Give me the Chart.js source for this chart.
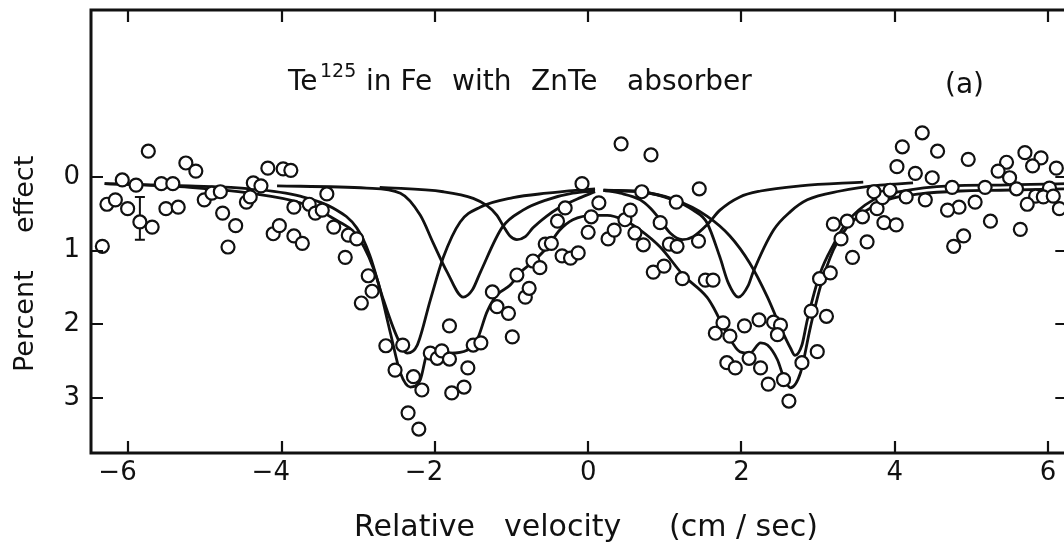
<!DOCTYPE html>
<html>
<head>
<meta charset="utf-8">
<script src="https://cdn.jsdelivr.net/npm/chart.js@4.4.1/dist/chart.umd.min.js"></script>
<style>
  html, body { margin: 0; padding: 0; background: #fff; overflow: hidden; }
  #wrap { width: 1076px; height: 545px; }
</style>
</head>
<body>
<div id="wrap"><canvas id="chart" width="1076" height="545"></canvas></div>
<script>
// Measured points: relative velocity (cm/sec) and percent effect
const obsVelocity = [
  -6.34, -6.28, -6.17, -6.08, -6.01, -5.90, -5.85, -5.74, -5.69, -5.57,
  -5.51, -5.42, -5.35, -5.25, -5.12, -5.01, -4.91, -4.80, -4.77, -4.70,
  -4.60, -4.46, -4.41, -4.37, -4.27, -4.18, -4.11, -4.03, -3.98, -3.88,
  -3.84, -3.73, -3.84, -3.64, -3.56, -3.47, -3.41, -3.32, -3.17, -3.13,
  -3.02, -2.87, -2.82, -2.96, -2.64, -2.42, -2.52, -2.28, -2.17, -2.35,
  -2.21, -2.06, -1.97, -1.91, -1.81, -1.81, -1.57, -1.78, -1.62, -1.50,
  -1.40, -1.25, -1.19, -1.04, -0.99, -0.93, -0.82, -0.77, -0.72, -0.63,
  -0.56, -0.48, -0.34, -0.23, -0.13, -0.40, -0.30, 0.00, 0.04, 0.14,
  -0.08, 0.43, 0.82, 0.26, 0.34, 0.48, 0.55, 0.70, 0.61, 0.72,
  0.94, 1.15, 1.45, 1.44, 1.06, 1.16, 0.85, 0.99, 1.23, 1.53,
  1.63, 1.76, 1.66, 1.85, 2.04, 2.23, 2.42, 2.51, 2.47, 1.81,
  1.92, 2.10, 2.25, 2.35, 2.55, 2.62, 2.79, 2.99, 2.91, 3.11,
  3.02, 3.16, 3.30, 3.45, 3.64, 3.20, 3.38, 3.58, 3.77, 3.84,
  3.73, 3.94, 3.86, 4.02, 4.03, 4.36, 4.10, 4.56, 4.96, 4.27,
  4.49, 4.15, 4.40, 4.75, 5.18, 5.59, 5.70, 5.91, 5.80, 5.46,
  5.35, 5.50, 6.11, 6.02, 5.84, 5.94, 6.07, 5.73, 6.15, 5.05,
  4.84, 4.69, 5.25, 5.64, 4.90, 4.77
];
const obsEffect = [
  0.94, 0.37, 0.31, 0.04, 0.43, 0.11, 0.61, -0.35, 0.68, 0.09,
  0.43, 0.09, 0.41, -0.19, -0.08, 0.31, 0.22, 0.20, 0.49, 0.95,
  0.66, 0.34, 0.27, 0.08, 0.12, -0.12, 0.77, 0.66, -0.11, -0.09,
  0.80, 0.90, 0.41, 0.37, 0.49, 0.45, 0.23, 0.68, 1.09, 0.79,
  0.84, 1.34, 1.55, 1.71, 2.29, 2.28, 2.62, 2.71, 2.89, 3.20,
  3.42, 2.39, 2.46, 2.36, 2.47, 2.02, 2.59, 2.93, 2.85, 2.28,
  2.25, 1.56, 1.76, 1.85, 2.17, 1.33, 1.63, 1.51, 1.14, 1.23,
  0.91, 0.90, 1.07, 1.10, 1.03, 0.60, 0.42, 0.75, 0.54, 0.35,
  0.09, -0.45, -0.30, 0.84, 0.72, 0.58, 0.45, 0.20, 0.76, 0.92,
  0.62, 0.34, 0.16, 0.87, 0.91, 0.94, 1.29, 1.21, 1.38, 1.40,
  1.40, 1.98, 2.12, 2.16, 2.02, 1.94, 1.97, 2.01, 2.14, 2.52,
  2.59, 2.46, 2.59, 2.81, 2.75, 3.04, 2.52, 2.37, 1.82, 1.89,
  1.38, 1.30, 0.84, 1.09, 0.88, 0.64, 0.60, 0.54, 0.43, 0.28,
  0.20, 0.18, 0.62, 0.65, -0.14, -0.60, -0.41, -0.35, -0.24, -0.05,
  0.01, 0.27, 0.31, 0.14, 0.14, 0.16, -0.33, -0.26, -0.15, -0.20,
  -0.08, 0.01, -0.12, 0.15, 0.26, 0.27, 0.26, 0.37, 0.43, 0.34,
  0.41, 0.45, 0.60, 0.71, 0.80, 0.94
];

// Fitted curves as [velocity, percent effect]
const fitTotal = [
  [-6.31, 0.09], [-5.20, 0.14], [-4.41, 0.22], [-3.76, 0.35], [-3.33, 0.56],
  [-2.98, 0.85], [-2.75, 1.40], [-2.58, 2.12], [-2.45, 2.66], [-2.32, 2.85],
  [-2.19, 2.75], [-2.09, 2.37], [-1.97, 2.35], [-1.80, 2.39], [-1.58, 2.35],
  [-1.45, 2.21], [-1.32, 1.83], [-1.19, 1.60], [-1.02, 1.47], [-0.89, 1.30],
  [-0.72, 1.15], [-0.54, 0.96], [-0.37, 0.72], [-0.20, 0.58], [0.07, 0.52],
  [0.25, 0.52], [0.46, 0.58], [0.68, 0.72], [0.94, 0.95], [1.24, 1.33],
  [1.55, 1.63], [1.63, 1.76], [1.81, 2.12], [1.98, 2.37], [2.11, 2.39],
  [2.25, 2.25], [2.34, 2.28], [2.47, 2.48], [2.55, 2.71], [2.64, 2.86],
  [2.77, 2.66], [2.90, 2.04], [3.03, 1.49], [3.20, 0.99], [3.38, 0.68],
  [3.64, 0.45], [3.90, 0.31], [4.33, 0.23], [4.86, 0.19], [5.38, 0.18],
  [6.21, 0.16]
];
const lineA = [
  [-6.31, 0.09], [-5.20, 0.12], [-4.41, 0.16], [-3.76, 0.26], [-3.33, 0.42],
  [-3.02, 0.69], [-2.85, 1.06], [-2.68, 1.64], [-2.49, 2.18], [-2.36, 2.39],
  [-2.23, 2.28], [-2.06, 1.67], [-1.89, 1.09], [-1.67, 0.61], [-1.41, 0.41],
  [-0.98, 0.28], [-0.54, 0.22], [0.09, 0.16]
];
const lineB = [
  [-4.06, 0.12], [-2.89, 0.15], [-2.45, 0.22], [-2.19, 0.52], [-2.02, 0.90],
  [-1.84, 1.29], [-1.63, 1.63], [-1.51, 1.53], [-1.41, 1.30], [-1.12, 0.68],
  [-0.85, 0.45], [-0.54, 0.31], [-0.20, 0.22], [0.09, 0.19]
];
const lineC = [
  [-2.72, 0.14], [-1.89, 0.20], [-1.50, 0.29], [-1.32, 0.39], [-1.19, 0.52],
  [-1.11, 0.66], [-1.02, 0.80], [-0.93, 0.85], [-0.82, 0.81], [-0.72, 0.69],
  [-0.54, 0.53], [-0.40, 0.43], [-0.10, 0.28], [0.09, 0.20]
];
const lineD = [
  [0.20, 0.18], [0.42, 0.22], [0.68, 0.31], [0.81, 0.42], [0.94, 0.58],
  [1.07, 0.76], [1.23, 0.85], [1.37, 0.81], [1.55, 0.65], [1.72, 0.45],
  [1.98, 0.27], [2.25, 0.19], [2.77, 0.12], [3.59, 0.07]
];
const lineE = [
  [0.20, 0.18], [0.68, 0.20], [1.11, 0.31], [1.37, 0.45], [1.55, 0.62],
  [1.72, 1.09], [1.83, 1.44], [1.96, 1.63], [2.09, 1.47], [2.15, 1.30],
  [2.42, 0.72], [2.64, 0.47], [2.86, 0.31], [3.29, 0.19], [3.81, 0.11],
  [4.24, 0.08]
];
const lineF = [
  [0.20, 0.18], [0.68, 0.20], [1.11, 0.30], [1.55, 0.53], [1.85, 0.80],
  [2.11, 1.17], [2.34, 1.63], [2.51, 2.04], [2.64, 2.32], [2.70, 2.42],
  [2.79, 2.28], [2.86, 1.94], [3.03, 1.30], [3.20, 0.92], [3.38, 0.61],
  [3.72, 0.31], [4.07, 0.20], [4.73, 0.12], [5.38, 0.11], [6.25, 0.09]
];

// Typical error bar
const errBarX = [-5.85];
const errBarLow = [0.27];
const errBarHigh = [0.85];

const xTicks = [-6, -4, -2, 0, 2, 4, 6];
const yTicks = [0, 1, 2, 3];

const INK = '#111';

const toXY = pts => pts.map(([x, y]) => ({ x, y }));

function curve(pts) {
    return {
        type: 'line',
        data: toXY(pts),
        borderColor: INK,
        borderWidth: 2.8,
        pointRadius: 0,
        fill: false,
        cubicInterpolationMode: 'monotone',
        order: 1
    };
}

const errorBarPlugin = {
    id: 'errorBar',
    beforeDatasetsDraw: (chart) => {
        const { ctx, scales: { x, y } } = chart;
        ctx.save();
        ctx.strokeStyle = INK;
        ctx.lineWidth = 2;
        errBarX.forEach((v, i) => {
            const px = x.getPixelForValue(v);
            const top = y.getPixelForValue(errBarLow[i]);
            const bot = y.getPixelForValue(errBarHigh[i]);
            ctx.beginPath();
            ctx.moveTo(px, top); ctx.lineTo(px, bot);
            ctx.moveTo(px - 5, top); ctx.lineTo(px + 5, top);
            ctx.moveTo(px - 5, bot); ctx.lineTo(px + 5, bot);
            ctx.stroke();
        });
        ctx.restore();
    }
};

// Box frame with inward ticks, plus the text inside and round the plot
const framePlugin = {
    id: 'frame',
    afterDatasetsDraw: (chart) => {
        const { ctx, chartArea: a, scales: { x, y } } = chart;
        ctx.save();
        ctx.strokeStyle = INK;
        ctx.lineWidth = 3;
        ctx.strokeRect(a.left, a.top, a.right - a.left, a.bottom - a.top);

        ctx.lineWidth = 2.2;
        ctx.beginPath();
        xTicks.forEach(v => {
            const px = Math.round(x.getPixelForValue(v));
            ctx.moveTo(px, a.top); ctx.lineTo(px, a.top + 12);
            ctx.moveTo(px, a.bottom); ctx.lineTo(px, a.bottom - 12);
        });
        yTicks.forEach(v => {
            const py = Math.round(y.getPixelForValue(v));
            ctx.moveTo(a.left, py); ctx.lineTo(a.left + 12, py);
            ctx.moveTo(a.right, py); ctx.lineTo(a.right - 12, py);
        });
        ctx.stroke();
        ctx.restore();
    },
    afterDraw: (chart) => {
        const ctx = chart.ctx;
        ctx.save();
        ctx.fillStyle = INK;
        ctx.textBaseline = 'alphabetic';
        ctx.textAlign = 'left';

        // caption inside the plot
        ctx.font = '28px "DejaVu Sans"';
        ctx.fillText('Te', 288, 90);
        ctx.fillText('in Fe', 366, 90);
        ctx.fillText('with', 452, 90);
        ctx.fillText('ZnTe', 531, 90);
        ctx.fillText('absorber', 627, 90);
        ctx.fillText('(a)', 945, 93);
        ctx.font = '19px "DejaVu Sans"';
        ctx.fillText('125', 320, 77);

        // x axis title
        ctx.font = '30px "DejaVu Sans"';
        ctx.fillText('Relative', 354, 536);
        ctx.fillText('velocity', 504, 536);
        ctx.fillText('(cm / sec)', 669, 536);

        // y axis title
        ctx.save();
        ctx.translate(33, 372);
        ctx.rotate(-Math.PI / 2);
        ctx.font = '27px "DejaVu Sans"';
        ctx.fillText('Percent', 0, 0);
        ctx.fillText('effect', 139, 0);
        ctx.restore();

        ctx.restore();
    }
};

new Chart(document.getElementById('chart'), {
    type: 'scatter',
    data: {
        datasets: [
            {
                label: 'Measured',
                data: obsVelocity.map((v, i) => ({ x: v, y: obsEffect[i] })),
                pointRadius: 6.5,
                pointBorderWidth: 2.2,
                pointBorderColor: INK,
                pointBackgroundColor: '#fff',
                showLine: false,
                order: 0
            },
            curve(fitTotal),
            curve(lineA),
            curve(lineB),
            curve(lineC),
            curve(lineD),
            curve(lineE),
            curve(lineF)
        ]
    },
    options: {
        responsive: false,
        devicePixelRatio: 1,
        animation: false,
        layout: { padding: { top: 10, right: 4, left: 0, bottom: 0 } },
        plugins: {
            legend: { display: false },
            tooltip: { enabled: false }
        },
        scales: {
            x: {
                type: 'linear',
                min: -6.488,
                max: 6.253,
                grid: { display: false, drawTicks: false },
                border: { display: false },
                afterBuildTicks: (s) => { s.ticks = xTicks.map(v => ({ value: v })); },
                afterFit: (s) => {
                    s.height = 92;
                    s.paddingLeft = 0;
                    s.paddingRight = 0;
                },
                ticks: {
                    autoSkip: false,
                    maxRotation: 0,
                    padding: 5,
                    color: INK,
                    font: { family: 'DejaVu Sans', size: 26 },
                    // pad negatives so the digit, not the sign, sits on the tick
                    callback: (v) => v < 0 ? '\u2212' + Math.abs(v) + '\u2007\u2009' : String(v)
                }
            },
            y: {
                type: 'linear',
                reverse: true,
                min: -2.266,
                max: 3.745,
                grid: { display: false, drawTicks: false },
                border: { display: false },
                afterBuildTicks: (s) => { s.ticks = yTicks.map(v => ({ value: v })); },
                afterFit: (s) => {
                    s.width = 91;
                    s.paddingTop = 0;
                    s.paddingBottom = 0;
                },
                ticks: {
                    autoSkip: false,
                    padding: 11,
                    color: INK,
                    font: { family: 'DejaVu Sans', size: 26 },
                    callback: (v) => String(v)
                }
            }
        }
    },
    plugins: [errorBarPlugin, framePlugin]
});
</script>
</body>
</html>
